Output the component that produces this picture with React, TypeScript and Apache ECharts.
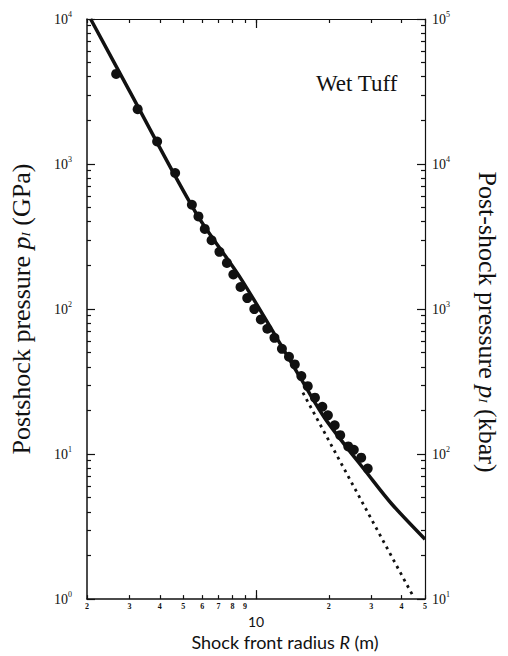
import React, { useEffect, useRef } from "react";
import * as echarts from "echarts";

// Measured data (Shock front radius R in m, post-shock pressure in GPa)
const dataRadius = [2.64, 3.24, 3.9, 4.63, 5.43, 5.78, 6.14, 6.55, 7.06, 7.58, 8.06, 8.63, 9.2, 9.84, 10.47, 11.14, 11.92, 12.8, 13.69, 14.47, 15.4, 16.37, 17.53, 18.81, 19.83, 21.16, 22.3, 24.08, 25.38, 27.23, 28.97];
const dataPressure = [4180, 2390, 1430, 867, 524, 435, 357, 298, 248, 208, 173, 142, 119, 100, 84.7, 73.1, 63.3, 53.2, 46.9, 41.5, 34.5, 29.4, 24.5, 21.2, 18.5, 15.8, 13.5, 11.3, 10.7, 9.45, 7.94];

// Solid curve
const fitRadius = [2.07, 3, 5.65, 8.71, 15.4, 19.41, 29.43, 36.51, 50];
const fitPressure = [10000, 3178, 459, 159.6, 32.7, 17.35, 7.06, 4.51, 2.59];

// Dotted extrapolation
const dotRadius = [15.63, 44.9];
const dotPressure = [26.5, 1.03];

// Axis ticks
const xTickValues = [2, 3, 4, 5, 6, 7, 8, 9, 10, 20, 30, 40, 50];
const xTickLabels = ["2", "3", "4", "5", "6", "7", "8", "9", "10", "2", "3", "4", "5"];
const xMajor = [10];
const leftDecades = [0, 1, 2, 3, 4];
const rightDecades = [1, 2, 3, 4, 5];
const minorMultipliers = [2, 3, 4, 5, 6, 7, 8, 9];

const lg = (v: number) => Math.log10(v);

export default function App() {
  const ref = useRef<HTMLDivElement>(null);
  useEffect(() => {
    document.body.style.margin = "0";
    if (!ref.current) return;
    const chart = echarts.init(ref.current, undefined, { renderer: "svg" });

    const xMin = lg(2);
    const xMax = lg(50);
    const xTicksLog = xTickValues.map(lg);
    const leftMinor: number[] = [];
    leftDecades.slice(0, -1).forEach((d) => minorMultipliers.forEach((m) => leftMinor.push(d + lg(m))));
    const rightMinor: number[] = [];
    rightDecades.slice(0, -1).forEach((d) => minorMultipliers.forEach((m) => rightMinor.push(d + lg(m))));

    const xLabelFor = (v: number) => {
      let best = 0;
      let bd = Infinity;
      xTicksLog.forEach((t, i) => {
        const d = Math.abs(t - v);
        if (d < bd) { bd = d; best = i; }
      });
      const s = xTickLabels[best];
      return xTickValues[best] === 10 ? `{b|${s}}` : `{s|${s}}`;
    };

    const serif = "Liberation Serif";
    const lineColor = "#111";
    const supLabel = (v: number) => `{b|10}{p|${Math.round(v)}}`;
    const supRich = {
      b: { fontFamily: serif, fontSize: 14, color: "#111" },
      p: { fontFamily: serif, fontSize: 8, color: "#111", padding: [0, 0, 9, 0] },
    };

    const hiddenX = {
      type: "value" as const,
      min: xMin,
      max: xMax,
      splitLine: { show: false },
      axisLabel: { show: false },
    };
    const hiddenY = (min: number, max: number) => ({
      type: "value" as const,
      min,
      max,
      splitLine: { show: false },
      axisLabel: { show: false },
    });

    const option: any = {
      animation: false,
      backgroundColor: "#fff",
      grid: { left: 86, right: 74, top: 19, bottom: 56, containLabel: false },
      xAxis: [
        {
          ...hiddenX,
          position: "bottom",
          axisLine: { show: true, lineStyle: { color: lineColor, width: 1.5 } },
          axisTick: { show: true, inside: true, length: 4, customValues: xTicksLog, lineStyle: { color: lineColor, width: 1.2 } },
          axisLabel: {
            show: true,
            customValues: xTicksLog,
            margin: 3,
            formatter: (v: number) => xLabelFor(v),
            rich: {
              s: { fontFamily: serif, fontSize: 8, fontWeight: "bold", color: "#111" },
              b: { fontFamily: "Lato", fontSize: 14, color: "#111", padding: [12, 0, 0, 0] },
            },
          },
          name: "Shock front radius {i|R} (m)",
          nameLocation: "middle",
          nameGap: 22,
          nameTextStyle: {
            fontFamily: "Lato",
            fontSize: 18,
            color: "#111",
            verticalAlign: "top",
            padding: [0, 0, 0, 58],
            rich: { i: { fontFamily: "Lato", fontStyle: "italic", fontSize: 18, color: "#111" } },
          },
        },
        {
          ...hiddenX,
          position: "bottom",
          axisLine: { show: false },
          axisTick: { show: true, inside: true, length: 9, customValues: xMajor.map(lg), lineStyle: { color: lineColor, width: 1.2 } },
        },
        {
          ...hiddenX,
          position: "top",
          axisLine: { show: true, lineStyle: { color: lineColor, width: 1.2 } },
          axisTick: { show: true, inside: true, length: 4, customValues: xTicksLog, lineStyle: { color: lineColor, width: 1.2 } },
        },
        {
          ...hiddenX,
          position: "top",
          axisLine: { show: false },
          axisTick: { show: true, inside: true, length: 9, customValues: xMajor.map(lg), lineStyle: { color: lineColor, width: 1.2 } },
        },
      ],
      yAxis: [
        {
          ...hiddenY(0, 4),
          position: "left",
          interval: 1,
          axisLine: { show: true, lineStyle: { color: lineColor, width: 1.5 } },
          axisTick: { show: true, inside: true, length: 8, lineStyle: { color: lineColor, width: 1.2 } },
          axisLabel: { show: true, align: "left", margin: 33, formatter: supLabel, rich: supRich },
          name: "Postshock pressure {i|p}{s|I} (GPa)",
          nameLocation: "middle",
          nameGap: 53,
          nameTextStyle: {
            fontFamily: serif,
            fontSize: 26,
            color: "#111",
            rich: {
              i: { fontFamily: serif, fontSize: 26, fontStyle: "italic", color: "#111" },
              s: { fontFamily: serif, fontSize: 13, fontStyle: "italic", color: "#111", padding: [8, 0, 0, 0] },
            },
          },
        },
        {
          ...hiddenY(0, 4),
          position: "left",
          axisLine: { show: false },
          axisTick: { show: true, inside: true, length: 4, customValues: leftMinor, lineStyle: { color: lineColor, width: 1.2 } },
        },
        {
          ...hiddenY(1, 5),
          position: "right",
          interval: 1,
          axisLine: { show: true, lineStyle: { color: lineColor, width: 1.2 } },
          axisTick: { show: true, inside: true, length: 8, lineStyle: { color: lineColor, width: 1.2 } },
          axisLabel: { show: true, margin: 7, formatter: supLabel, rich: supRich },
          name: "Post-shock pressure {i|p}{s|I} (kbar)",
          nameLocation: "middle",
          nameGap: 49,
          nameRotate: -90,
          nameTextStyle: {
            fontFamily: serif,
            fontSize: 26,
            color: "#111",
            padding: [0, 0, 0, 26],
            rich: {
              i: { fontFamily: serif, fontSize: 26, fontStyle: "italic", color: "#111" },
              s: { fontFamily: serif, fontSize: 13, fontStyle: "italic", color: "#111", padding: [8, 0, 0, 0] },
            },
          },
        },
        {
          ...hiddenY(1, 5),
          position: "right",
          axisLine: { show: false },
          axisTick: { show: true, inside: true, length: 4, customValues: rightMinor, lineStyle: { color: lineColor, width: 1.2 } },
        },
      ],
      graphic: [
        {
          type: "text",
          left: 316,
          top: 72,
          style: { text: "Wet Tuff", fontFamily: serif, fontSize: 23, fill: "#111" },
        },
      ],
      series: [
        {
          type: "line",
          name: "dotted",
          xAxisIndex: 0,
          yAxisIndex: 0,
          data: dotRadius.map((r, i) => [lg(r), lg(dotPressure[i])]),
          showSymbol: false,
          symbol: "none",
          lineStyle: { color: "#111", width: 2.8, type: [2.8, 4.5] },
          z: 1,
        },
        {
          type: "line",
          name: "fit",
          xAxisIndex: 0,
          yAxisIndex: 0,
          data: fitRadius.map((r, i) => [lg(r), lg(fitPressure[i])]),
          showSymbol: false,
          symbol: "none",
          smooth: 0.3,
          lineStyle: { color: "#111", width: 3.5 },
          z: 2,
        },
        {
          type: "scatter",
          name: "data",
          xAxisIndex: 0,
          yAxisIndex: 0,
          data: dataRadius.map((r, i) => [lg(r), lg(dataPressure[i])]),
          symbol: "circle",
          symbolSize: 10,
          itemStyle: { color: "#111", opacity: 1 },
          z: 3,
        },
      ],
    };
    chart.setOption(option);
    return () => chart.dispose();
  }, []);
  return <div ref={ref} style={{ width: 508, height: 656 }} />;
}
